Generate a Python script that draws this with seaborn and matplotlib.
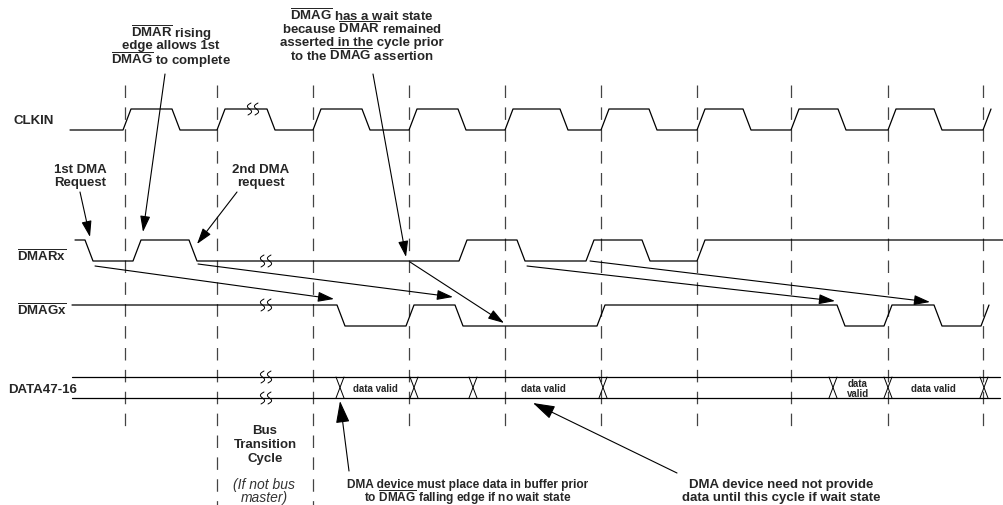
import numpy as np
import pandas as pd
import seaborn as sns
import matplotlib.pyplot as plt

sns.set_theme(style='white')
plt.rcParams['font.family'] = ['Liberation Sans', 'DejaVu Sans']
plt.rcParams['mathtext.fontset'] = 'custom'
plt.rcParams['mathtext.rm'] = 'Liberation Sans'
plt.rcParams['mathtext.bf'] = 'Liberation Sans:bold'

# ---- data (timing, in diagram units) ----
cycle_lines = [125, 217, 313, 409, 505, 601, 697, 791, 888, 983]
long_lines = [217, 313]          # these run down past the bus transition text

clk_edges = [123, 172, 217, 267, 313, 362, 409, 458, 505, 560,
             601, 649, 697, 743, 791, 838, 888, 934, 983]
dmar_edges = [85, 133, 189, 459, 517, 586, 642, 697]
dmag_edges = [337, 406, 455, 597, 837, 884, 934, 981]
data_cross = [336, 410, 469, 599, 829, 884, 980]

signal_names = ['CLKIN', r'$\overline{\mathbf{DMARx}}$', r'$\overline{\mathbf{DMAGx}}$', 'DATA47-16']
signal_hi = [110, 241, 306, 378]
signal_lo = [131, 262, 327, 399]
signal_start = [70, 75, 72, 72]
signal_end = [991, 1004, 989, 1000]
signal_init = [0, 1, 1, None]   # 1 = starts high

valid_x = [375, 543, 858, 933]
valid_txt = ['data valid', 'data valid', 'data\nvalid', 'data valid']
break_x = [253, 266, 266, 266]

# arrows: tail -> head
arrows = [((80, 193), (90, 238)), ((165, 75), (143, 233)), ((237, 193), (197, 245)),
          ((373, 75), (406, 258)), ((95, 267), (334, 300)), ((198, 265), (453, 298)),
          ((410, 263), (504, 324)), ((527, 267), (835, 302)), ((590, 262), (930, 303))]
big_arrows = [((349, 472), (340, 402)), ((677, 474), (533, 404))]


def wave(x0, x1, init, edges, hi, lo, slope=8):
    state = init
    xs, ys = [x0], [hi if state else lo]
    for e in edges:
        xs += [e, e + slope]
        ys += [hi if state else lo, lo if state else hi]
        state = 1 - state
    if xs[-1] < x1:
        xs.append(x1)
        ys.append(hi if state else lo)
    return pd.DataFrame({'t': xs, 'v': ys})


fig = plt.figure(figsize=(10.04, 5.06), dpi=100)
ax = fig.add_axes([0, 0, 1, 1])

# dashed cycle boundaries
for x in cycle_lines:
    y1 = 506 if x in long_lines else 431
    ax.vlines(x, 86, y1, colors='#444444', lw=0.9, linestyles=(0, (10, 7.5)))

# waveforms
for edges, i in [(clk_edges, 0), (dmar_edges, 1), (dmag_edges, 2)]:
    df = wave(signal_start[i], signal_end[i], signal_init[i], edges, signal_hi[i], signal_lo[i])
    sns.lineplot(data=df, x='t', y='v', sort=False, estimator=None, color='black', lw=0.9, ax=ax)

# data bus
for yy in [signal_hi[3], signal_lo[3]]:
    bus = pd.DataFrame({'t': [signal_start[3], signal_end[3]], 'v': [yy, yy]})
    sns.lineplot(data=bus, x='t', y='v', sort=False, estimator=None, color='black', lw=0.9, ax=ax)
for c in data_cross:
    ax.plot([c, c + 8], [signal_hi[3], signal_lo[3]], color='black', lw=0.7)
    ax.plot([c, c + 8], [signal_lo[3], signal_hi[3]], color='black', lw=0.7)
for x, s in zip(valid_x, valid_txt):
    ax.text(x, 389, s, ha='center', va='center', fontsize=7, fontweight='bold', linespacing=0.95)


# break marks
def breakmark(xc, yc):
    t = np.linspace(-1, 1, 40)
    for dx in (-3.5, 3.5):
        ax.plot(xc + dx + 2.8 * np.sin(np.pi * t) - 1.5 * t, yc + 6 * t, color='black', lw=0.7)


breakmark(break_x[0], signal_hi[0])
breakmark(break_x[1], signal_lo[1])
breakmark(break_x[2], signal_hi[2])
breakmark(break_x[3], signal_hi[3])
breakmark(break_x[3], signal_lo[3])

# signal labels
label_pos = [(14, 121), (17, 257), (17, 311), (8, 390)]
for (x, y), s in zip(label_pos, signal_names):
    ax.text(x, y, s, ha='left', va='center', fontsize=9.5, fontweight='bold')

# annotation texts
fs = 9.5
notes = [
    (171, [33, 46, 60], [r'$\overline{\mathbf{DMAR}}$ rising', 'edge allows 1st',
                         r'$\overline{\mathbf{DMAG}}$ to complete']),
    (362, [16, 29, 43, 56], [r'$\overline{\mathbf{DMAG}}$ has a wait state',
                             r'because $\overline{\mathbf{DMAR}}$ remained',
                             'asserted in the cycle prior',
                             r'to the $\overline{\mathbf{DMAG}}$ assertion']),
    (80, [170, 183], ['1st DMA', 'Request']),
    (261, [170, 183], ['2nd DMA', 'request']),
    (265, [431, 445, 459], ['Bus', 'Transition', 'Cycle']),
    (781, [485, 498], ['DMA device need not provide', 'data until this cycle if wait state']),
]
for x, ys, lines in notes:
    for y, s in zip(ys, lines):
        ax.text(x, y, s, ha='center', va='center', fontsize=fs, fontweight='bold')
for y, s in zip([485, 497.5], ['DMA device must place data in buffer prior',
                               r'to $\overline{\mathbf{DMAG}}$ falling edge if no wait state']):
    ax.text(468, y, s, ha='center', va='center', fontsize=8.6, fontweight='bold')
for y, s in zip([485, 498], ['(If not bus', 'master)']):
    ax.text(264, y, s, ha='center', va='center', fontsize=10, style='italic', color='#333333')

# arrows
for (tail, head) in arrows:
    ax.annotate('', xy=head, xytext=tail,
                arrowprops=dict(arrowstyle='-|>,head_length=0.7,head_width=0.22', color='black',
                                lw=0.8, mutation_scale=14, shrinkA=0, shrinkB=0))
for (tail, head) in big_arrows:
    ax.annotate('', xy=head, xytext=tail,
                arrowprops=dict(arrowstyle='-|>,head_length=0.8,head_width=0.25', color='black',
                                lw=0.8, mutation_scale=17, shrinkA=0, shrinkB=0))

ax.set_xlim(0, 1004)
ax.set_ylim(506, 0)
ax.axis('off')
fig.savefig('out.png', dpi=100)
